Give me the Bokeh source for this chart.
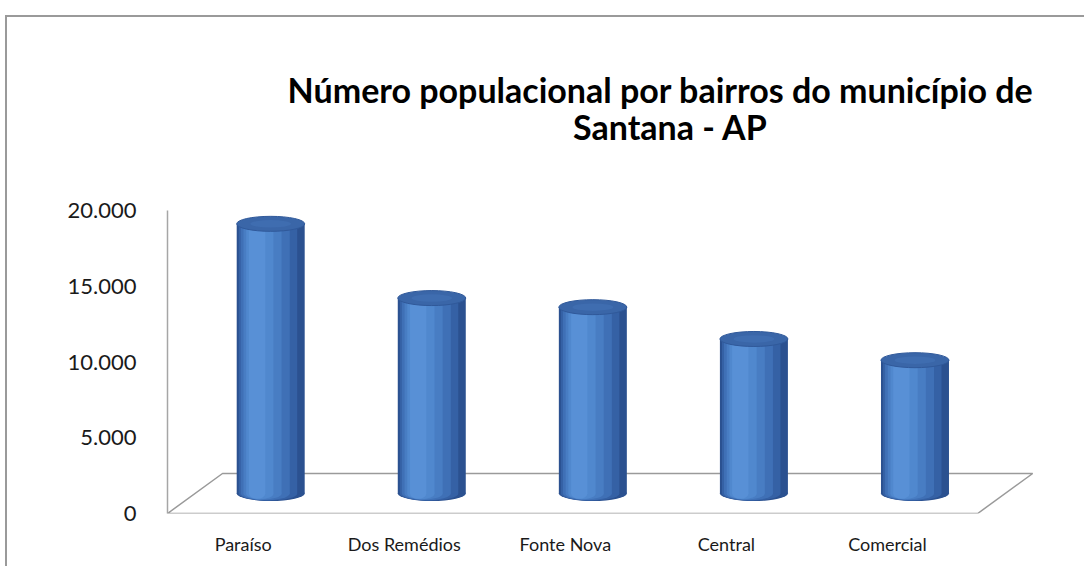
from bokeh.plotting import figure
from bokeh.models import Range1d, FixedTicker, Label, ColumnDataSource
from bokeh.embed import file_html
from bokeh.resources import INLINE

# ---- data ----
categories = ["Paraíso", "Dos Remédios", "Fonte Nova", "Central", "Comercial"]
values = [17800, 12900, 12300, 10200, 8800]
y_ticks = [0, 5000, 10000, 15000, 20000]
y_tick_labels = ["0", "5.000", "10.000", "15.000", "20.000"]
title_lines = ["Número populacional por bairros do município de", "Santana - AP"]

# ---- styling / geometry constants (page pixels) ----
FONT = "Lato"
PAGE_W, PAGE_H = 1086, 568
OFF_X, OFF_Y = 7, 17            # figure origin on page (margin + border)
W, H = PAGE_W - OFF_X, PAGE_H - OFF_Y
AX_TOP, AX_BOT = 210, 513       # page y of 20.000 and 0
FRAME_L, FRAME_R, FRAME_T, FRAME_B = 167, 1040, 40, AX_BOT
X0, X1 = -0.47, 4.95
Y_MAX = y_ticks[-1]
px_x = (FRAME_R - FRAME_L) / (X1 - X0)
px_y = (AX_BOT - AX_TOP) / Y_MAX
Y0, Y1 = 0, (FRAME_B - FRAME_T) / px_y
DEPTH_X = 55 / px_x          # 3D depth offset (data units)
DEPTH_Y = 40 / px_y
CYL_W = 68 / px_x
ELL_H = 15 / px_y

def page_x(px):
    return X0 + (px - FRAME_L) / px_x

def page_y(py):
    return (FRAME_B - py) / px_y

p = figure(width=W, height=H, output_backend="svg", toolbar_location=None,
           x_range=Range1d(X0, X1), y_range=Range1d(Y0, Y1),
           min_border_left=FRAME_L - OFF_X, min_border_right=PAGE_W - FRAME_R,
           min_border_top=FRAME_T - OFF_Y, min_border_bottom=PAGE_H - FRAME_B,
           background_fill_color="white", border_fill_color="white")
p.styles = {"margin-left": "5px", "margin-top": "15px",
            "border-left": "2px solid #9a9a9a", "border-top": "2px solid #9a9a9a"}
p.outline_line_color = None
p.grid.visible = False

# y axis
ya = p.yaxis[0]
ya.ticker = FixedTicker(ticks=y_ticks)
ya.bounds = (0, Y_MAX)
ya.major_label_overrides = {t: l for t, l in zip(y_ticks, y_tick_labels)}
ya.major_tick_line_color = None
ya.minor_tick_line_color = None
ya.axis_line_color = "#a6a6a6"
ya.axis_line_width = 1.5
ya.major_label_text_font = FONT
ya.major_label_text_font_size = "22px"
ya.major_label_text_color = "#1a1a1a"
ya.major_label_standoff = 25

# x axis
xa = p.xaxis[0]
n = len(categories)
xa.ticker = FixedTicker(ticks=list(range(n)))
xa.major_label_overrides = {i: c for i, c in enumerate(categories)}
xa.major_tick_line_color = None
xa.minor_tick_line_color = None
xa.axis_line_color = None
xa.major_label_text_font = FONT
xa.major_label_text_font_size = "18px"
xa.major_label_text_color = "#1a1a1a"
xa.major_label_standoff = 13

# floor (3D base plane)
front_l, front_r = X0, (n - 1) + 0.56
p.patch([front_l, front_r, front_r + DEPTH_X, front_l + DEPTH_X],
        [0, 0, DEPTH_Y, DEPTH_Y], fill_color="white", line_color="#9a9a9a", line_width=1.5)

# cylinders
cx = [i + DEPTH_X / 2 for i in range(n)]
base = DEPTH_Y / 2
tops = [base + v for v in values]
src = ColumnDataSource(dict(x=cx, top=tops, base=[base] * n))

layers = [(1.00, 0.000, "#2b5190"),
          (0.86, -0.004, "#3561a5"),
          (0.72, -0.008, "#3f70b6"),
          (0.56, -0.012, "#487dc3"),
          (0.40, -0.016, "#5088ce"),
          (0.24, -0.020, "#5890d6")]
for frac, off, col in layers:
    xs = [c + off * CYL_W * 10 for c in cx]
    s = ColumnDataSource(dict(x=xs, top=tops, base=[base] * n))
    p.ellipse(x="x", y="base", width=CYL_W * frac, height=ELL_H * (0.6 + 0.4 * frac),
              source=s, fill_color=col, line_color=None)
    p.vbar(x="x", bottom="base", top="top", width=CYL_W * frac, source=s,
           fill_color=col, line_color=None)

# top caps
p.ellipse(x="x", y="top", width=CYL_W, height=ELL_H, source=src,
          fill_color="#3a66a8", line_color="#30599a", line_width=1)
p.ellipse(x="x", y="top", width=CYL_W * 0.6, height=ELL_H * 0.5, source=src,
          fill_color="#4272b5", line_color=None, fill_alpha=0.6)

# title (two lines)
for text, (cxp, cyp) in zip(title_lines, [(660, 89), (670, 126)]):
    p.add_layout(Label(x=page_x(cxp), y=page_y(cyp), text=text, text_font=FONT,
                       text_font_style="bold", text_font_size="34px", text_color="#000000",
                       text_align="center", text_baseline="middle"))

open("out.html", "w").write(file_html(p, INLINE))
